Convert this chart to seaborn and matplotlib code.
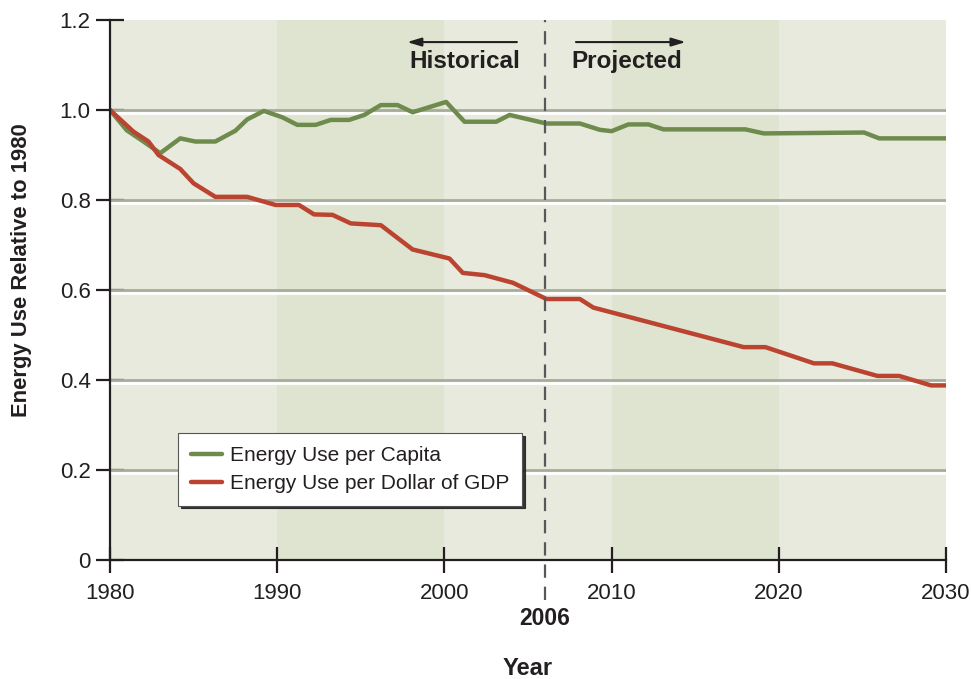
#!/usr/bin/env python3

import pandas as pd
import seaborn as sns
import matplotlib.pyplot as plt
import matplotlib.patheffects as pe
import matplotlib.transforms as mtransforms

# values
capita_years = [1980, 1981, 1982, 1983, 1984.2, 1985.1, 1986.3, 1987.5, 1988.2, 1989.2,
                1990.3, 1991.2, 1992.3, 1993.2, 1994.3, 1995.2, 1996.2, 1997.2, 1998.1,
                2000.1, 2001.2, 2003.1, 2003.9, 2006.1, 2008.1, 2009.3, 2010, 2011,
                2012.2, 2013.1, 2018, 2019.1, 2025.1, 2026, 2030]
capita_vals = [1.0, 0.955, 0.93, 0.904, 0.937, 0.93, 0.93, 0.954, 0.979, 0.998,
               0.984, 0.967, 0.967, 0.978, 0.978, 0.989, 1.011, 1.011, 0.995,
               1.018, 0.974, 0.974, 0.989, 0.97, 0.97, 0.956, 0.953, 0.968,
               0.968, 0.957, 0.957, 0.948, 0.95, 0.937, 0.937]

gdp_years = [1980, 1981.4, 1982.3, 1982.9, 1984.2, 1985, 1986.3, 1988.2, 1989.9, 1991.3,
             1992.2, 1993.3, 1994.4, 1996.2, 1998.1, 2000.3, 2001.1, 2002.4, 2004.1,
             2006.1, 2008.1, 2008.9, 2017.9, 2019.2, 2022.1, 2023.2, 2025.9, 2027.2,
             2029.1, 2030]
gdp_vals = [1.0, 0.952, 0.93, 0.9, 0.869, 0.837, 0.807, 0.807, 0.789, 0.789,
            0.768, 0.767, 0.748, 0.744, 0.69, 0.67, 0.638, 0.633, 0.616,
            0.58, 0.58, 0.561, 0.473, 0.473, 0.437, 0.437, 0.409, 0.409,
            0.388, 0.388]

series_names = ["Energy Use per Capita", "Energy Use per Dollar of GDP"]
decades = [1980, 1990, 2000, 2010, 2020, 2030]
y_ticks = [0, 0.2, 0.4, 0.6, 0.8, 1.0, 1.2]
y_labels = ["0", "0.2", "0.4", "0.6", "0.8", "1.0", "1.2"]
split_year = 2006

df = pd.concat([
    pd.DataFrame({"Year": capita_years, "Value": capita_vals, "Series": series_names[0]}),
    pd.DataFrame({"Year": gdp_years, "Value": gdp_vals, "Series": series_names[1]}),
])

sns.set_style("white")
plt.rcParams["font.family"] = ["Liberation Sans", "DejaVu Sans"]
text_col = "#231f20"

fig = plt.figure(figsize=(9.71, 6.79), dpi=100)
ax = fig.add_axes([0.1133, 0.1753, 0.8610, 0.7952])

# decade bands
band_cols = ["#e8eadd", "#dfe4d1"]
for i in range(len(decades) - 1):
    ax.axvspan(decades[i], decades[i + 1], color=band_cols[i % 2], lw=0, zorder=0)

# grid lines with white highlight underneath
for v in y_ticks[1:-1]:
    ax.axhline(v, color="#a8ad9b", lw=2, zorder=1,
               path_effects=[pe.SimpleLineShadow(offset=(0, -2.5), shadow_color="white", alpha=1, linewidth=2),
                             pe.Normal()])

sns.lineplot(data=df, x="Year", y="Value", hue="Series", ax=ax,
             palette=["#6e8b4d", "#bb4430"], linewidth=3.2, sort=False,
             estimator=None, zorder=3)

# split line at 2006
trans = mtransforms.blended_transform_factory(ax.transData, ax.transAxes)
ax.plot([split_year, split_year], [-0.075, 1], transform=trans, clip_on=False,
        color="#58585a", lw=1.6, ls=(0, (6, 4)), zorder=4)

ax.set_xlim(1980, 2030)
ax.set_ylim(0, 1.2)
ax.set_xticks(decades)
ax.set_yticks(y_ticks)
ax.set_yticklabels(y_labels)

for s in ["top", "right"]:
    ax.spines[s].set_visible(False)
for s in ["left", "bottom"]:
    ax.spines[s].set_color("#231f20")
    ax.spines[s].set_linewidth(1.6)
    ax.spines[s].set_zorder(5)

ax.tick_params(axis="x", bottom=True, direction="inout", length=19, width=1.6,
               color="#231f20", labelsize=16, labelcolor=text_col, pad=7)
ax.tick_params(axis="y", left=True, direction="inout", length=20, width=1.6,
               color="#231f20", labelsize=16, labelcolor=text_col, pad=4)

ax.text(split_year, -0.088, "2006", transform=trans, ha="center", va="top",
        fontsize=16.5, fontweight="bold", color=text_col)

ax.set_xlabel("Year", fontsize=17, fontweight="bold", color=text_col, labelpad=38)
ax.set_ylabel("Energy Use Relative to 1980", fontsize=15.8, fontweight="bold",
              color=text_col)
ax.yaxis.set_label_coords(-0.093, 0.537)

# historical / projected markers
arrow_kw = dict(arrowstyle="-|>,head_length=0.6,head_width=0.18", color="#231f20",
                lw=1.5, mutation_scale=14)
ax.annotate("", xy=(1997.6, 1.151), xytext=(2004.5, 1.151), arrowprops=arrow_kw)
ax.annotate("", xy=(2014.6, 1.151), xytext=(2007.7, 1.151), arrowprops=arrow_kw)
ax.text(2001.2, 1.107, "Historical", ha="center", va="center", fontsize=17.5,
        fontweight="bold", color=text_col)
ax.text(2010.9, 1.107, "Projected", ha="center", va="center", fontsize=17.5,
        fontweight="bold", color=text_col)

leg = ax.legend(loc="upper left", bbox_to_anchor=(0.0717, 0.25), frameon=True,
                fancybox=False, shadow={"color": "#222222", "alpha": 0.9},
                fontsize=15, handlelength=1.5, borderpad=0.6, labelspacing=0.45,
                handletextpad=0.4, borderaxespad=0.4)
leg.get_frame().set_edgecolor("#555555")
leg.get_frame().set_linewidth(0.8)
leg.get_frame().set_facecolor("white")
leg.get_frame().set_alpha(1)
for t in leg.get_texts():
    t.set_color(text_col)
leg.set_zorder(6)

fig.savefig("out.png", dpi=100)
